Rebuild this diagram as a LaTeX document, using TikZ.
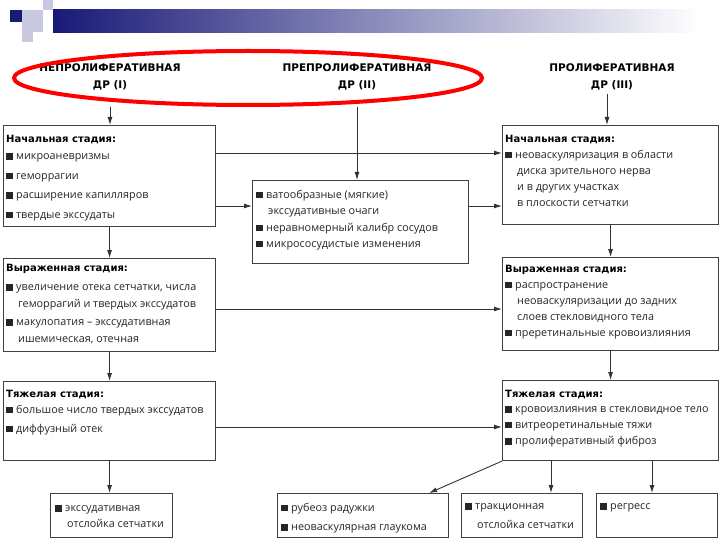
\documentclass[tikz,border=0pt]{standalone}
\usepackage{fontspec}
\setmainfont{Open Sans}
\newfontfamily\hfont{DejaVu Sans}
\usetikzlibrary{arrows.meta,shapes.geometric,calc}
\definecolor{navy}{RGB}{25,25,120}
\definecolor{lav}{RGB}{200,200,225}
\newcommand{\bsq}{\makebox[10pt][l]{\rule{6.5pt}{6.5pt}}}
\newcommand{\cont}{\hspace*{12pt}}
\newcommand{\ttl}[1]{{\color{black}\hfont\bfseries\fontsize{10}{12}\selectfont #1}}
\begin{document}
\begin{tikzpicture}[x=1pt,y=-1pt,
  box/.style={draw=black!75, line width=1.1pt, fill=white, anchor=north west, inner sep=0pt},
  txt/.style={anchor=north west, align=left, inner sep=0pt, text=black!85, font=\fontsize{10.8}{#1}\selectfont},
  arr/.style={draw=black!80, line width=0.9pt, -{Latex[length=8pt,width=5pt]}},
  hdr/.style={align=center, inner sep=0pt, font=\hfont\bfseries\fontsize{10.5}{17}\selectfont}
]
\useasboundingbox (0,0) rectangle (720,540);
% title bar decoration
\shade[left color=navy, right color=white] (53,10) rectangle (700,33);
\fill[lav] (22,10) rectangle (43,32);
\fill[lav] (22,32) rectangle (33,42);
\fill[lav] (43,0) rectangle (53,10);
\fill[navy] (10,10) rectangle (22,22);

% headers
\node[hdr] (h1) at (110,77) {НЕПРОЛИФЕРАТИВНАЯ\\ДР (I)};
\node[hdr] (h2) at (357,77) {ПРЕПРОЛИФЕРАТИВНАЯ\\ДР (II)};
\node[hdr] (h3) at (612,77) {ПРОЛИФЕРАТИВНАЯ\\ДР (III)};
\node[draw=red, line width=4pt, ellipse, minimum width=468pt, minimum height=54pt, inner sep=0pt] (ell) at (248,78) {};

% boxes
\node[box, minimum width=212pt, minimum height=101pt] (L1) at (3,125) {};
\node[box, minimum width=212pt, minimum height=93pt] (L2) at (3,258) {};
\node[box, minimum width=212pt, minimum height=79pt] (L3) at (3,381) {};
\node[box, minimum width=122pt, minimum height=44pt] (L4) at (50,493) {};
\node[box, minimum width=216pt, minimum height=83pt] (M) at (252,180) {};
\node[box, minimum width=216pt, minimum height=99pt] (R1) at (502,125) {};
\node[box, minimum width=216pt, minimum height=93pt] (R2) at (502,257) {};
\node[box, minimum width=216pt, minimum height=80pt] (R3) at (502,380) {};
\node[box, minimum width=171pt, minimum height=44pt] (B1) at (277,493) {};
\node[box, minimum width=121pt, minimum height=44pt] (B2) at (461,493) {};
\node[box, minimum width=121pt, minimum height=44pt] (B3) at (596,493) {};

% texts
\node[txt=19.5] (tL1) at (6,135) {\ttl{Начальная стадия:}\\[-2pt]
 \bsq микроаневризмы\\ \bsq геморрагии\\ \bsq расширение капилляров\\ \bsq твердые экссудаты};
\node[txt=17] (tL2) at (6,264.5) {\ttl{Выраженная стадия:}\\[2pt]
 \bsq увеличение отека сетчатки, числа\\ \cont геморрагий и твердых экссудатов\\[1pt]
 \bsq макулопатия – экссудативная\\ \cont ишемическая, отечная};
\node[txt=17] (tL3) at (6,390) {\ttl{Тяжелая стадия:}\\[-1pt]
 \bsq большое число твердых экссудатов\\[2pt] \bsq диффузный отек};
\node[txt=16] (tL4) at (55,505) {\bsq экссудативная\\ \cont отслойка сетчатки};
\node[txt=16] (tM) at (256,190) {\bsq ватообразные (мягкие)\\ \cont экссудативные очаги\\[1pt]
 \bsq неравномерный калибр сосудов\\ \bsq микрососудистые изменения};
\node[txt=16] (tR1) at (505,135) {\ttl{Начальная стадия:}\\
 \bsq неоваскуляризация в области\\ \cont диска зрительного нерва\\ \cont и в других участках\\ \cont в плоскости сетчатки};
\node[txt=16] (tR2) at (505,265) {\ttl{Выраженная стадия:}\\
 \bsq распространение\\ \cont неоваскуляризации до задних\\ \cont слоев стекловидного тела\\ \bsq преретинальные кровоизлияния};
\node[txt=15.5] (tR3) at (505,390) {\ttl{Тяжелая стадия:}\\
 \bsq кровоизлияния в стекловидное тело\\ \bsq витреоретинальные тяжи\\[1pt] \bsq пролиферативный фиброз};
\node[txt=19.5] (tB1) at (281,503) {\bsq рубеоз радужки\\ \bsq неоваскулярная глаукома};
\node[txt=19] (tB2) at (465,503) {\bsq тракционная\\ \cont отслойка сетчатки};
\node[txt=19] (tB3) at (600,503) {\bsq регресс};

% connector points
\coordinate (p1) at ($(L1.north west)+(0,28)$);
\coordinate (p2) at ($(M.north west)+(0,26)$);
\coordinate (p3) at ($(L2.north west)+(0,51)$);
\coordinate (p4) at ($(L3.north west)+(0,46)$);
\coordinate (b1t) at ($(B1.north east)+(-20,0)$);
\coordinate (b2t) at ($(B2.north west)+(90,0)$);
\coordinate (b3t) at ($(B3.north west)+(56,0)$);
\coordinate (h3a) at ($(h3.south)+(-5,4)$);

% arrows
\draw[arr] (h1.south |- ell.south) -- (h1.south |- L1.north);
\draw[arr] (h2.south |- ell.south) -- (h2.south |- M.north);
\draw[arr] (h3a) -- (h3a |- R1.north);
\draw[arr] (L1.south) -- (L2.north);
\draw[arr] (L2.south) -- (L3.north);
\draw[arr] (L3.south) -- (L3.south |- L4.north);
\draw[arr] (R1.south) -- (R2.north);
\draw[arr] (R2.south) -- (R3.north);
\draw[arr] (p1 -| L1.east) -- (p1 -| R1.west);
\draw[arr] (p2 -| L1.east) -- (p2);
\draw[arr] (p2 -| M.east) -- (p2 -| R1.west);
\draw[arr] (p3 -| L2.east) -- (p3 -| R2.west);
\draw[arr] (p4 -| L3.east) -- (p4 -| R3.west);
\draw[arr] (R3.south west) -- (b1t);
\draw[arr] (b2t |- R3.south) -- (b2t);
\draw[arr] (b3t |- R3.south) -- (b3t);
\end{tikzpicture}
\end{document}
